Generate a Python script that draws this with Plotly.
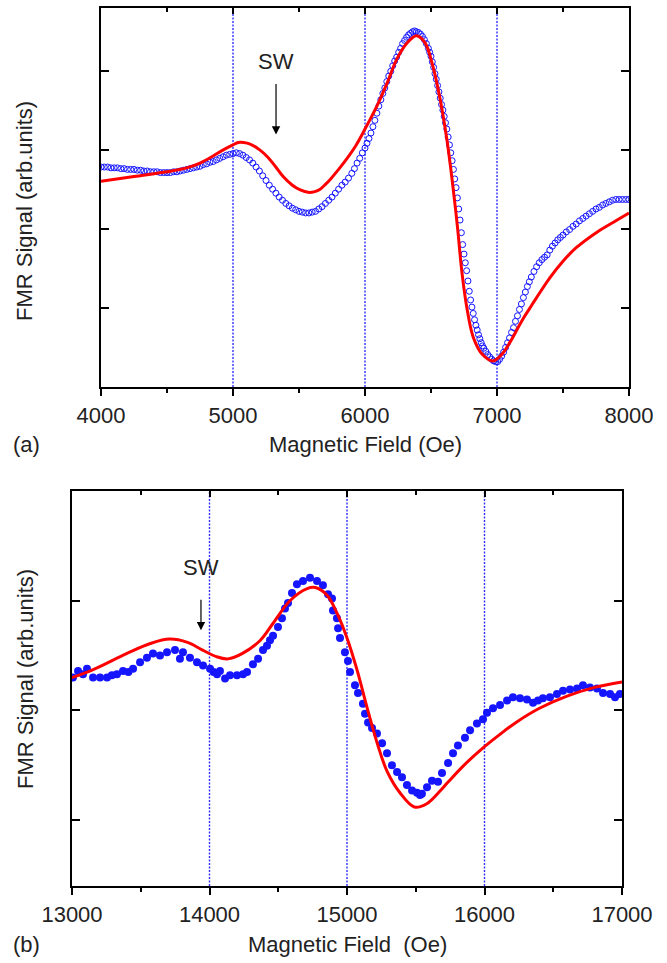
import plotly.graph_objects as go

# ---------------- data: panel (a) ----------------
a_meas_x = [4000, 4025, 4050, 4075, 4100, 4125, 4150, 4175, 4200, 4225, 4250, 4275, 4300, 4325, 4350,
            4375, 4400, 4425, 4450, 4475, 4500, 4525, 4550, 4575, 4600, 4625, 4650, 4675, 4700, 4725,
            4750, 4775, 4800, 4825, 4850, 4875, 4900, 4925, 4950, 4975, 5000, 5025, 5050, 5075, 5100,
            5125, 5150, 5175, 5200, 5225, 5250, 5275, 5300, 5325, 5350, 5375, 5400, 5425, 5450, 5475,
            5500, 5525, 5550, 5575, 5600, 5625, 5650, 5675, 5700, 5725, 5750, 5775, 5800, 5825, 5850,
            5875, 5900, 5920, 5940, 5960, 5980, 6000, 6015, 6030, 6045, 6060, 6075, 6090, 6105, 6120,
            6135, 6150, 6165, 6180, 6195, 6210, 6225, 6240, 6255, 6270, 6285, 6300, 6315, 6330, 6345,
            6360, 6375, 6390, 6405, 6420, 6435, 6450, 6465, 6480, 6490, 6500, 6510, 6520, 6530, 6540,
            6550, 6560, 6570, 6580, 6590, 6600, 6610, 6620, 6630, 6640, 6650, 6660, 6670, 6680, 6690,
            6700, 6710, 6720, 6730, 6740, 6750, 6760, 6770, 6780, 6790, 6800, 6810, 6820, 6830, 6840,
            6850, 6860, 6870, 6880, 6890, 6900, 6915, 6930, 6945, 6960, 6975, 6990, 7005, 7020, 7035,
            7050, 7065, 7080, 7095, 7110, 7125, 7140, 7155, 7170, 7185, 7200, 7215, 7230, 7245, 7260,
            7280, 7300, 7320, 7340, 7360, 7380, 7400, 7420, 7440, 7460, 7480, 7500, 7525, 7550, 7575,
            7600, 7625, 7650, 7675, 7700, 7725, 7750, 7775, 7800, 7825, 7850, 7875, 7900, 7925, 7950,
            7975, 8000]
a_meas_y = [2.78, 2.78, 2.78, 2.77, 2.77, 2.77, 2.76, 2.76, 2.75, 2.75, 2.75, 2.74, 2.74, 2.73, 2.73,
            2.72, 2.72, 2.72, 2.71, 2.71, 2.71, 2.71, 2.72, 2.72, 2.73, 2.74, 2.75, 2.76, 2.77, 2.78,
            2.79, 2.81, 2.82, 2.84, 2.85, 2.87, 2.89, 2.91, 2.93, 2.94, 2.95, 2.96, 2.95, 2.93, 2.90,
            2.87, 2.83, 2.78, 2.73, 2.67, 2.61, 2.55, 2.50, 2.45, 2.40, 2.36, 2.32, 2.29, 2.26, 2.24,
            2.22, 2.21, 2.20, 2.20, 2.21, 2.22, 2.25, 2.28, 2.32, 2.36, 2.40, 2.45, 2.50, 2.55, 2.59,
            2.64, 2.70, 2.76, 2.83, 2.89, 2.96, 3.02, 3.08, 3.14, 3.21, 3.29, 3.37, 3.46, 3.55, 3.63,
            3.71, 3.78, 3.86, 3.93, 3.99, 4.06, 4.12, 4.17, 4.23, 4.28, 4.34, 4.38, 4.42, 4.45, 4.47,
            4.49, 4.50, 4.49, 4.48, 4.46, 4.43, 4.39, 4.34, 4.28, 4.23, 4.18, 4.11, 4.04, 3.96, 3.89,
            3.81, 3.73, 3.65, 3.57, 3.50, 3.42, 3.34, 3.26, 3.16, 3.06, 2.96, 2.86, 2.75, 2.63, 2.52,
            2.39, 2.25, 2.11, 1.95, 1.80, 1.68, 1.57, 1.47, 1.34, 1.21, 1.10, 1.01, 0.93, 0.85, 0.78,
            0.72, 0.66, 0.61, 0.56, 0.52, 0.49, 0.45, 0.41, 0.38, 0.35, 0.33, 0.32, 0.32, 0.35, 0.39,
            0.44, 0.50, 0.56, 0.62, 0.69, 0.75, 0.83, 0.90, 0.98, 1.05, 1.13, 1.20, 1.27, 1.33, 1.39,
            1.46, 1.52, 1.57, 1.61, 1.64, 1.67, 1.73, 1.78, 1.82, 1.86, 1.89, 1.92, 1.96, 1.99, 2.03,
            2.06, 2.10, 2.13, 2.16, 2.19, 2.22, 2.25, 2.27, 2.30, 2.32, 2.34, 2.36, 2.37, 2.37, 2.37,
            2.37, 2.37]

a_fit_x = [4000, 4250, 4500, 4650, 4750, 4850, 4930, 5000, 5040, 5080, 5130, 5200, 5260, 5320, 5380,
           5450, 5510, 5570, 5620, 5660, 5700, 5740, 5800, 5860, 5930, 6000, 6090, 6170, 6240, 6320,
           6390, 6455, 6515, 6570, 6620, 6660, 6700, 6735, 6775, 6820, 6890, 6970, 7045, 7100, 7150,
           7200, 7250, 7300, 7400, 7500, 7600, 7760, 7910, 8000]
a_fit_y = [2.60, 2.66, 2.72, 2.77, 2.83, 2.92, 3.00, 3.06, 3.09, 3.09, 3.07, 3.00, 2.91, 2.79, 2.66,
           2.55, 2.49, 2.46, 2.47, 2.50, 2.56, 2.63, 2.75, 2.88, 3.05, 3.26, 3.55, 3.85, 4.14, 4.35,
           4.44, 4.35, 4.05, 3.63, 3.13, 2.62, 2.03, 1.44, 0.97, 0.63, 0.41, 0.33, 0.43, 0.57, 0.72,
           0.87, 1.00, 1.13, 1.38, 1.59, 1.76, 1.96, 2.11, 2.20]

# ---------------- data: panel (b) ----------------
b_meas_x = [13007, 13044, 13080, 13109, 13153, 13204, 13255, 13290, 13327, 13371, 13410, 13444, 13495,
            13545, 13589, 13640, 13691, 13749, 13785, 13807, 13858, 13909, 13953, 14004, 14030, 14055,
            14076, 14113, 14149, 14200, 14244, 14273, 14316, 14353, 14389, 14418, 14440, 14462, 14498,
            14527, 14549, 14571, 14600, 14636, 14680, 14731, 14782, 14825, 14862, 14891, 14898, 14927,
            14935, 14949, 14985, 15007, 15022, 15058, 15080, 15116, 15131, 15153, 15182, 15218, 15255,
            15291, 15327, 15364, 15400, 15436, 15473, 15509, 15531, 15545, 15582, 15618, 15662, 15691,
            15735, 15771, 15807, 15858, 15895, 15945, 15989, 16018, 16062, 16113, 16164, 16207, 16258,
            16309, 16353, 16389, 16425, 16476, 16527, 16571, 16622, 16673, 16716, 16767, 16818, 16862,
            16913, 16949, 16985]
b_meas_y = [1.30, 1.36, 1.33, 1.38, 1.30, 1.30, 1.30, 1.32, 1.33, 1.36, 1.35, 1.38, 1.44,
            1.48, 1.52, 1.50, 1.53, 1.55, 1.47, 1.53, 1.48, 1.44, 1.41, 1.38, 1.35, 1.33,
            1.36, 1.29, 1.32, 1.32, 1.33, 1.35, 1.42, 1.47, 1.55, 1.59, 1.64, 1.68, 1.76,
            1.84, 1.93, 1.98, 2.07, 2.15, 2.18, 2.21, 2.18, 2.14, 2.06, 2.02, 1.91, 1.84,
            1.75, 1.66, 1.53, 1.45, 1.35, 1.23, 1.16, 1.06, 0.97, 0.89, 0.84, 0.79, 0.70,
            0.61, 0.50, 0.44, 0.39, 0.32, 0.27, 0.25, 0.23, 0.24, 0.30, 0.36, 0.35, 0.43,
            0.52, 0.61, 0.68, 0.75, 0.82, 0.88, 0.92, 0.98, 1.02, 1.05, 1.09, 1.12, 1.11,
            1.10, 1.07, 1.09, 1.11, 1.12, 1.15, 1.18, 1.19, 1.20, 1.23, 1.21, 1.20, 1.16,
            1.15, 1.12, 1.15]

b_fit_x = [13000, 13150, 13400, 13570, 13710, 13840, 13950, 14050, 14135, 14240, 14370, 14460, 14585,
           14710, 14770, 14855, 14930, 15000, 15075, 15145, 15220, 15290, 15385, 15490, 15580, 15680,
           15730, 15850, 16000, 16110, 16240, 16400, 16600, 16800, 17000]
b_fit_y = [1.30, 1.37, 1.52, 1.61, 1.65, 1.62, 1.55, 1.49, 1.47, 1.52, 1.64, 1.79, 2.00,
           2.11, 2.12, 2.05, 1.88, 1.66, 1.36, 1.03, 0.70, 0.45, 0.25, 0.12, 0.15, 0.27,
           0.34, 0.50, 0.67, 0.78, 0.90, 1.02, 1.13, 1.21, 1.26]

a_xrange = [4000, 8000]
a_yrange = [0, 4.79]
b_xrange = [13000, 17000]
b_yrange = [-0.6, 3.0]
x_step = 1000

W, H = 667, 963
FONT = "Liberation Sans, Arial, sans-serif"
TXT = "#222222"
BLUE = "#1515ff"
GRID = "#2f2fff"
RED = "#ff0000"


def fx(p):
    return p / W


def fy(p):
    return 1 - p / H


fig = go.Figure()

fig.add_trace(go.Scatter(x=a_meas_x, y=a_meas_y, mode="markers", xaxis="x", yaxis="y",
                         marker=dict(symbol="circle-open", size=6, color=BLUE, line=dict(width=1, color=BLUE)),
                         showlegend=False, hoverinfo="skip"))
fig.add_trace(go.Scatter(x=a_fit_x, y=a_fit_y, mode="lines", xaxis="x", yaxis="y",
                         line=dict(color=RED, width=3, shape="spline", smoothing=1.0),
                         showlegend=False, hoverinfo="skip"))
fig.add_trace(go.Scatter(x=b_meas_x, y=b_meas_y, mode="markers", xaxis="x2", yaxis="y2",
                         marker=dict(symbol="circle", size=8, color=BLUE, line=dict(width=0)),
                         showlegend=False, hoverinfo="skip"))
fig.add_trace(go.Scatter(x=b_fit_x, y=b_fit_y, mode="lines", xaxis="x2", yaxis="y2",
                         line=dict(color=RED, width=3, shape="spline", smoothing=1.0),
                         showlegend=False, hoverinfo="skip"))
# invisible traces to activate top tick axes
fig.add_trace(go.Scatter(x=[a_xrange[0]], y=[a_yrange[0]], mode="markers", xaxis="x3", yaxis="y",
                         marker=dict(opacity=0), showlegend=False, hoverinfo="skip"))
fig.add_trace(go.Scatter(x=[b_xrange[0]], y=[b_yrange[0]], mode="markers", xaxis="x4", yaxis="y2",
                         marker=dict(opacity=0), showlegend=False, hoverinfo="skip"))

dom_a_x = [fx(101), fx(629)]
dom_a_y = [fy(387), fy(8)]
dom_b_x = [fx(72), fx(622)]
dom_b_y = [fy(886), fy(491)]


def xbottom(rng, dom, anchor):
    return dict(range=rng, domain=dom, anchor=anchor, automargin=False,
                showline=True, linewidth=2, linecolor="black",
                mirror=True, ticks="outside", ticklen=7, tickwidth=1.5, tickcolor="black",
                tick0=rng[0], dtick=x_step, tickformat="d", showgrid=False,
                zeroline=False, tickfont=dict(family=FONT, size=22, color=TXT),
                minor=dict(ticks="outside", ticklen=4, tickwidth=1.5, tickcolor="black", dtick=x_step / 2,
                           tick0=rng[0], showgrid=False),
                ticklabelstandoff=1, fixedrange=True)


def xtop(rng, over, anchor):
    return dict(range=rng, overlaying=over, side="top", anchor=anchor, showline=False, automargin=False,
                ticks="inside", ticklen=6, tickwidth=1.5, tickcolor="black", tick0=rng[0], dtick=x_step,
                showticklabels=False, showgrid=False, zeroline=False,
                minor=dict(ticks="inside", ticklen=4, tickwidth=1.5, tickcolor="black", dtick=x_step / 2,
                           tick0=rng[0], showgrid=False))


def yax(rng, dom, anchor, tv):
    return dict(range=rng, domain=dom, anchor=anchor, automargin=False,
                showline=True, linewidth=2, linecolor="black",
                mirror="ticks", ticks="inside", ticklen=8, tickwidth=1.5, tickcolor="black",
                tickvals=tv, showticklabels=False, showgrid=False, zeroline=False)


# dotted blue guide lines at the interior major ticks (drawn as shapes, below the data)
shapes = []
for rng, xr, yr in [(a_xrange, "x", "y domain"), (b_xrange, "x2", "y2 domain")]:
    v = rng[0] + x_step
    while v < rng[1]:
        shapes.append(dict(type="line", xref=xr, yref=yr, x0=v, x1=v, y0=0, y1=1, layer="below",
                           line=dict(color=GRID, width=1.4, dash="2px,1.5px")))
        v += x_step

fig.update_layout(
    width=W, height=H, autosize=False,
    margin=dict(l=0, r=0, t=0, b=0, pad=0),
    paper_bgcolor="white", plot_bgcolor="white",
    xaxis=xbottom(a_xrange, dom_a_x, "y"),
    yaxis=yax(a_yrange, dom_a_y, "x", [0, 1, 2, 3, 4]),
    xaxis2=xbottom(b_xrange, dom_b_x, "y2"),
    yaxis2=yax(b_yrange, dom_b_y, "x2", [0, 1, 2, 3]),
    xaxis3=xtop(a_xrange, "x", "y"),
    xaxis4=xtop(b_xrange, "x2", "y2"),
    shapes=shapes,
)

ann = []


def text(s, xp, yp, size=22, angle=0):
    ann.append(dict(text=s, x=fx(xp), y=fy(yp), xref="paper", yref="paper", showarrow=False,
                    xanchor="center", yanchor="middle", textangle=angle,
                    font=dict(family=FONT, size=size, color=TXT)))


text("Magnetic Field (Oe)", 365, 444)
text("(a)", 26, 444)
text("FMR Signal (arb.units)", 24, 211, angle=-90)
text("Magnetic Field\u00a0 (Oe)", 347, 944)
text("(b)", 26, 944)
text("FMR Signal (arb.units)", 25, 679, angle=-90)

# SW labels and arrows
ann.append(dict(text="SW", x=5326, y=4.11, xref="x", yref="y", showarrow=False,
                font=dict(family=FONT, size=22, color=TXT)))
ann.append(dict(text="", x=5326, y=3.19, xref="x", yref="y", showarrow=True, ax=0, ay=-52,
                arrowhead=2, arrowsize=1.4, arrowwidth=1.2, arrowcolor="black"))
ann.append(dict(text="SW", x=13938, y=2.30, xref="x2", yref="y2", showarrow=False,
                font=dict(family=FONT, size=22, color=TXT)))
ann.append(dict(text="", x=13938, y=1.73, xref="x2", yref="y2", showarrow=True, ax=0, ay=-32,
                arrowhead=2, arrowsize=1.4, arrowwidth=1.2, arrowcolor="black"))

fig.update_layout(annotations=ann)

fig.write_html("out.html")
